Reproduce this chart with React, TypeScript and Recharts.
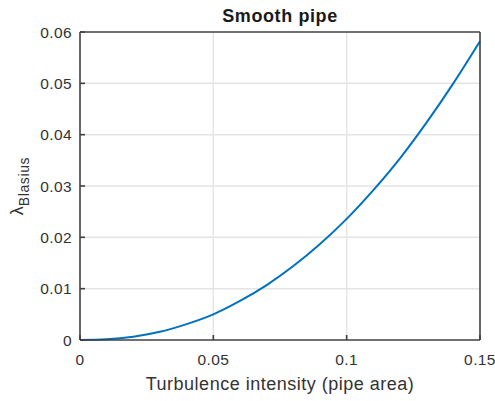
import { LineChart, Line, XAxis, YAxis, ReferenceLine } from "recharts";

// turbulence intensity (pipe area) vs Blasius friction factor
const intensity = [0, 0.01, 0.02, 0.03, 0.04, 0.05, 0.06, 0.07, 0.08, 0.09, 0.1, 0.11, 0.12, 0.13, 0.14, 0.15];
const lambda = [0, 0.00014, 0.00065, 0.0016, 0.0031, 0.005, 0.0076, 0.0107, 0.0144, 0.0187, 0.0236, 0.0292, 0.0354, 0.0424, 0.05, 0.0582];

const xTicks = [0, 0.05, 0.1, 0.15];
const yTicks = [0, 0.01, 0.02, 0.03, 0.04, 0.05, 0.06];

const data = intensity.map((x, i) => ({ x, y: lambda[i] }));

const FONT = "'Liberation Sans', Arial, Helvetica, sans-serif";
const AXIS = "#404040";
const TEXT = "#333333";
const GRID = "#e4e4e4";

const tickStyle = { fontSize: 15.5, fill: TEXT, fontFamily: FONT, letterSpacing: 0.4 };
const axisLine = { stroke: AXIS, strokeWidth: 1.6 };

// title, x label and y label drawn together
function Labels() {
  return (
    <g fontFamily={FONT}>
      <text x={280} y={22} textAnchor="middle" fill="#1a1a1a" fontSize={18} fontWeight="bold" letterSpacing={0.6}>
        Smooth pipe
      </text>
      <text x={280} y={390} textAnchor="middle" fill={TEXT} fontSize={18} letterSpacing={0.5}>
        Turbulence intensity (pipe area)
      </text>
      <text transform="translate(23,186) rotate(-90)" textAnchor="middle" fill={TEXT} fontSize={18}>
        λ
        <tspan fontSize={14} dy={6} letterSpacing={0.6}>
          Blasius
        </tspan>
      </text>
    </g>
  );
}

export default function App() {
  return (
    <div style={{ position: "absolute", left: 0, top: 0, background: "#fff" }}>
      <LineChart width={495} height={401} data={data} margin={{ top: 31, right: 14, bottom: 0, left: 0 }}>
        {xTicks.slice(1, -1).map((t) => (
          <ReferenceLine key={"gx" + t} x={t} stroke={GRID} strokeWidth={1.5} />
        ))}
        {yTicks.slice(1, -1).map((t) => (
          <ReferenceLine key={"gy" + t} y={t} stroke={GRID} strokeWidth={1.5} />
        ))}
        <XAxis
          dataKey="x"
          type="number"
          domain={[0, 0.15]}
          ticks={xTicks}
          height={61}
          tickSize={-5}
          tickMargin={19}
          fontSize={15.5}
          tick={tickStyle}
          axisLine={axisLine}
          tickLine={axisLine}
        />
        <XAxis
          xAxisId="top"
          dataKey="x"
          orientation="top"
          type="number"
          domain={[0, 0.15]}
          ticks={xTicks}
          height={1}
          tickSize={-5}
          tick={false}
          axisLine={axisLine}
          tickLine={axisLine}
        />
        <YAxis
          type="number"
          domain={[0, 0.06]}
          ticks={yTicks}
          width={80}
          tickSize={-5}
          tickMargin={13}
          fontSize={15.5}
          tick={tickStyle}
          axisLine={axisLine}
          tickLine={axisLine}
          label={<Labels />}
        />
        <YAxis
          yAxisId="right"
          orientation="right"
          type="number"
          domain={[0, 0.06]}
          ticks={yTicks}
          width={1}
          tickSize={-5}
          tick={false}
          axisLine={axisLine}
          tickLine={axisLine}
        />
        {/* invisible copy so the top and right box axes get drawn */}
        <Line
          xAxisId="top"
          yAxisId="right"
          dataKey="y"
          stroke="none"
          dot={false}
          activeDot={false}
          isAnimationActive={false}
        />
        <Line
          dataKey="y"
          type="monotone"
          stroke="#0072BD"
          strokeWidth={2}
          dot={false}
          isAnimationActive={false}
        />
      </LineChart>
    </div>
  );
}
